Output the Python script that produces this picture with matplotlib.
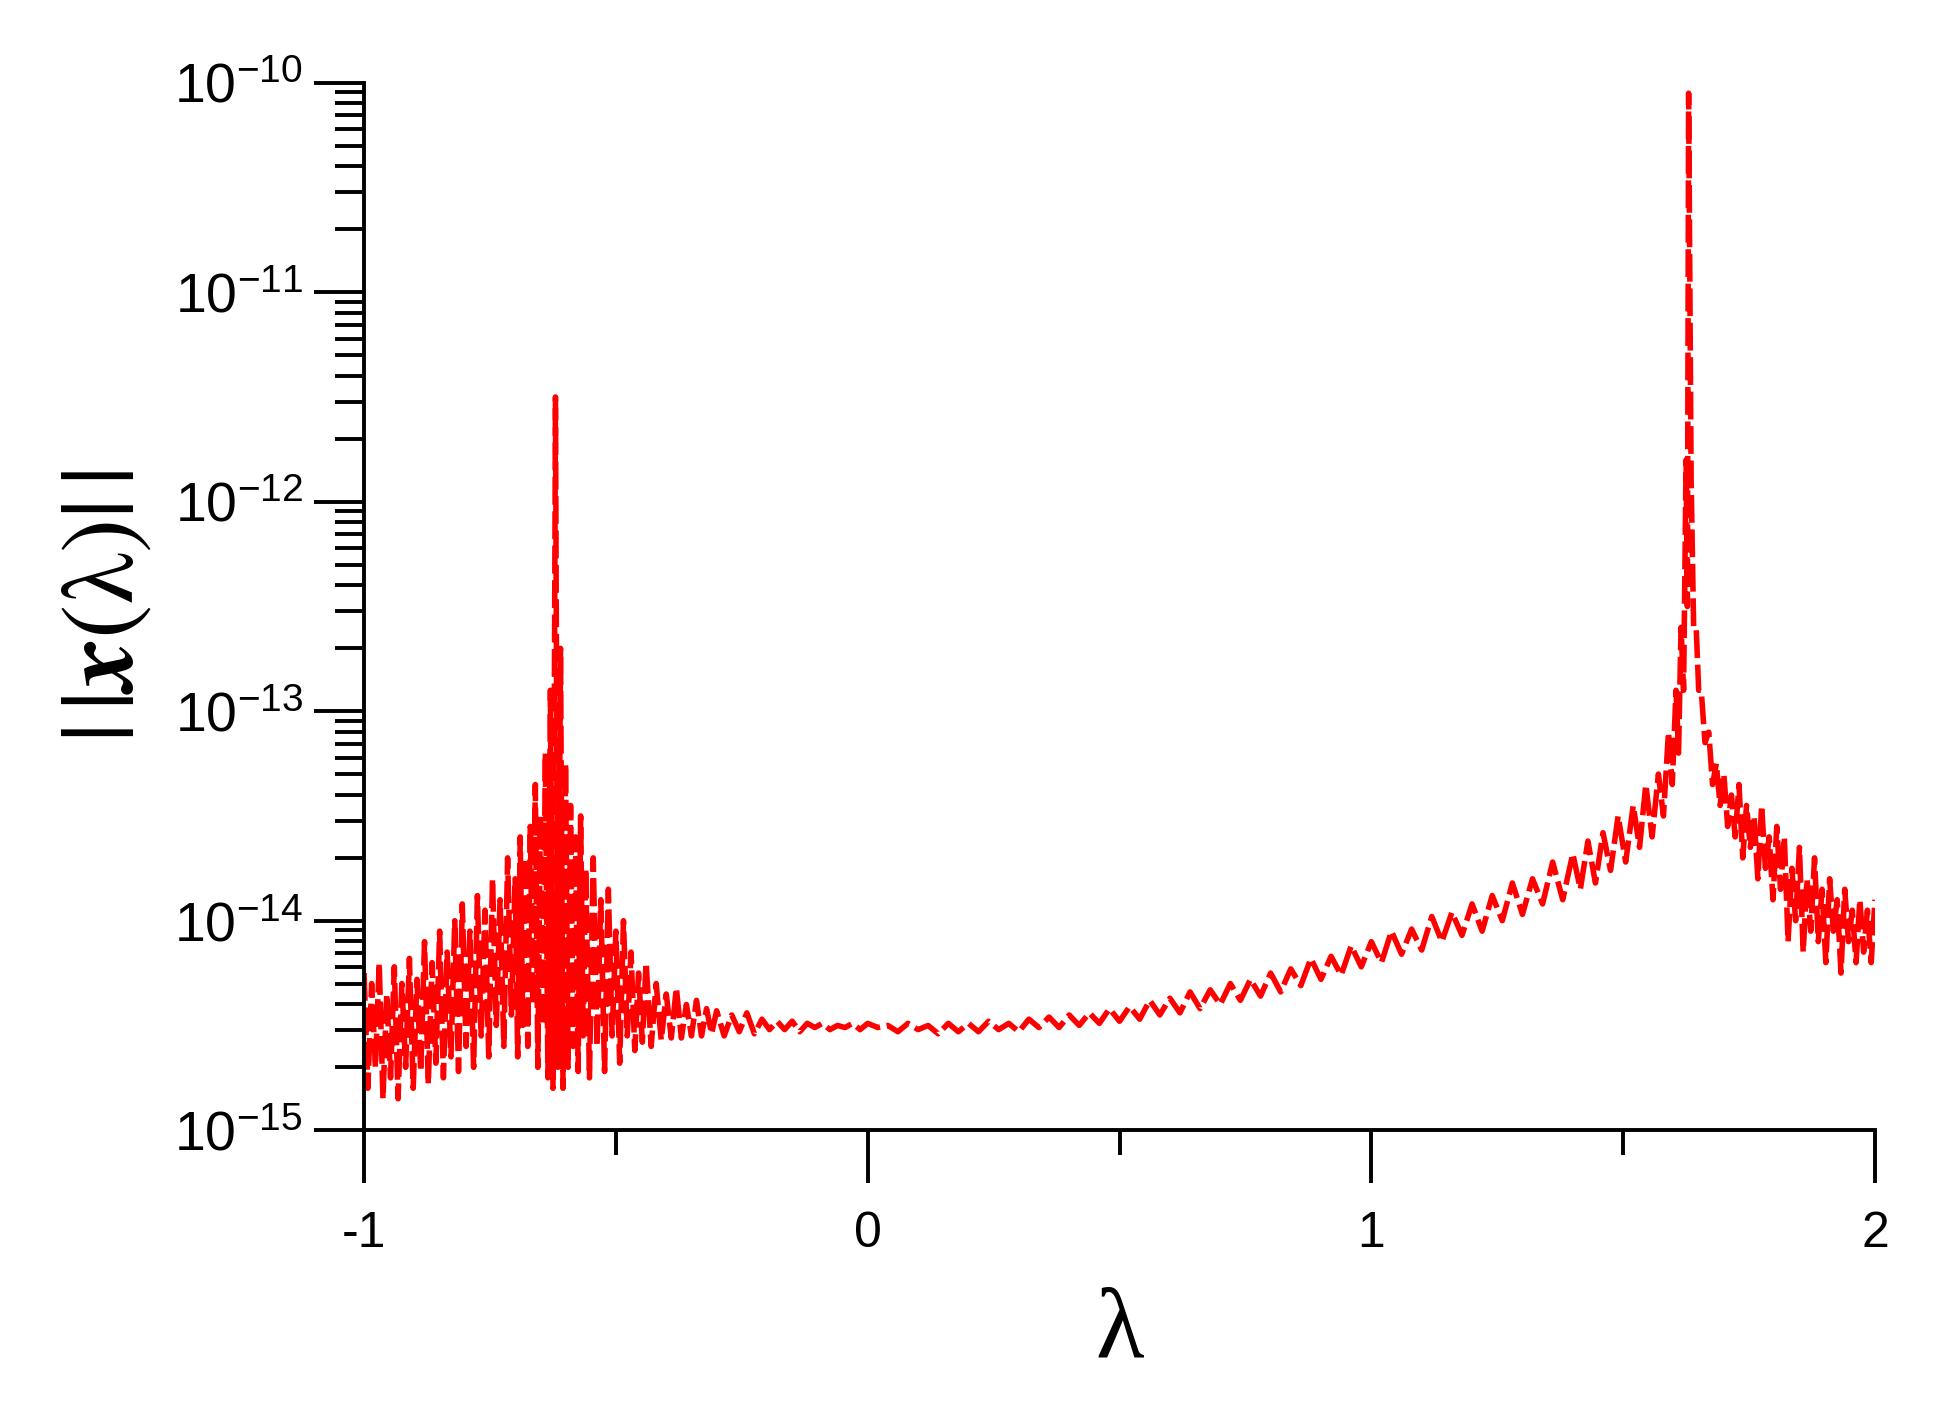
import numpy as np
import matplotlib
matplotlib.use('Agg')
import matplotlib.pyplot as plt
from matplotlib.ticker import FixedLocator, LogLocator, NullFormatter

plt.rcParams['font.family'] = 'Liberation Sans'
plt.rcParams['mathtext.fontset'] = 'stix'

# envelope: lambda knots, log10 of upper / lower noise
lam = [-1.0, -0.985, -0.97, -0.955, -0.94, -0.925, -0.91, -0.895, -0.88, -0.865,
       -0.85, -0.835, -0.82, -0.805, -0.79, -0.775, -0.76, -0.745, -0.73, -0.715,
       -0.70, -0.69, -0.68, -0.67, -0.66, -0.65, -0.64, -0.63, -0.62, -0.61,
       -0.60, -0.59, -0.58, -0.57, -0.56, -0.545, -0.53, -0.515, -0.50, -0.485,
       -0.47, -0.455, -0.44, -0.42, -0.40, -0.38, -0.36, -0.34, -0.32, -0.30,
       -0.27, -0.24, -0.21, -0.18, -0.15, -0.12, -0.09, -0.06, -0.03, 0.0,
       0.04, 0.08, 0.12, 0.16, 0.20, 0.24, 0.28, 0.32, 0.36, 0.40,
       0.44, 0.48, 0.52, 0.56, 0.60, 0.64, 0.68, 0.72, 0.76, 0.80,
       0.84, 0.88, 0.92, 0.96, 1.00, 1.04, 1.08, 1.12, 1.16, 1.20,
       1.24, 1.28, 1.32, 1.36, 1.40, 1.43, 1.46, 1.49, 1.52, 1.545,
       1.57, 1.59, 1.605, 1.615, 1.625, 1.63, 1.635, 1.645, 1.655, 1.67,
       1.685, 1.70, 1.715, 1.73, 1.745, 1.76, 1.775, 1.79, 1.805, 1.82,
       1.835, 1.85, 1.865, 1.88, 1.895, 1.91, 1.925, 1.94, 1.955, 1.97,
       1.985, 2.0]
hi = [-14.25, -14.3, -14.2, -14.35, -14.22, -14.3, -14.18, -14.28, -14.1, -14.2,
      -14.05, -14.15, -14.0, -13.92, -14.05, -13.88, -13.95, -13.8, -13.9, -13.7,
      -13.8, -13.6, -13.7, -13.55, -13.35, -13.5, -13.2, -12.9, -11.5, -12.7,
      -13.25, -13.45, -13.6, -13.5, -13.75, -13.7, -13.9, -13.85, -14.05, -14.0,
      -14.15, -14.25, -14.2, -14.3, -14.35, -14.32, -14.4, -14.38, -14.42, -14.43,
      -14.45, -14.44, -14.47, -14.48, -14.48, -14.49, -14.49, -14.5, -14.49, -14.49,
      -14.5, -14.49, -14.5, -14.49, -14.49, -14.48, -14.49, -14.47, -14.46, -14.45,
      -14.44, -14.42, -14.41, -14.38, -14.37, -14.34, -14.33, -14.3, -14.28, -14.25,
      -14.23, -14.18, -14.17, -14.12, -14.1, -14.05, -14.04, -13.98, -13.96, -13.92,
      -13.88, -13.82, -13.8, -13.72, -13.68, -13.62, -13.58, -13.5, -13.45, -13.35,
      -13.3, -13.1, -12.9, -12.6, -11.8, -10.05, -11.9, -12.6, -12.9, -13.1,
      -13.25, -13.3, -13.4, -13.35, -13.45, -13.5, -13.45, -13.6, -13.55, -13.6,
      -13.75, -13.65, -13.8, -13.7, -13.85, -13.8, -13.9, -13.85, -13.95, -13.9,
      -13.95, -13.9]
lo = [-14.8, -14.7, -14.85, -14.75, -14.85, -14.7, -14.8, -14.72, -14.78, -14.68,
      -14.75, -14.65, -14.72, -14.6, -14.7, -14.55, -14.65, -14.5, -14.6, -14.45,
      -14.65, -14.5, -14.6, -14.4, -14.7, -14.5, -14.75, -14.8, -14.7, -14.8,
      -14.7, -14.6, -14.72, -14.55, -14.75, -14.6, -14.72, -14.55, -14.68, -14.55,
      -14.62, -14.58, -14.6, -14.57, -14.56, -14.56, -14.55, -14.55, -14.54, -14.55,
      -14.53, -14.54, -14.52, -14.52, -14.53, -14.51, -14.52, -14.51, -14.52, -14.51,
      -14.53, -14.52, -14.54, -14.53, -14.53, -14.52, -14.53, -14.51, -14.51, -14.5,
      -14.49, -14.48, -14.47, -14.45, -14.44, -14.42, -14.4, -14.38, -14.36, -14.34,
      -14.31, -14.28, -14.26, -14.22, -14.2, -14.16, -14.14, -14.1, -14.07, -14.05,
      -14.0, -13.97, -13.92, -13.9, -13.85, -13.82, -13.76, -13.72, -13.65, -13.6,
      -13.5, -13.35, -13.2, -12.9, -12.5, -11.0, -12.6, -12.9, -13.15, -13.35,
      -13.45, -13.55, -13.6, -13.7, -13.65, -13.8, -13.75, -13.9, -13.85, -14.1,
      -14.0, -14.15, -14.05, -14.1, -14.2, -14.05, -14.25, -14.1, -14.2, -14.15,
      -14.2, -14.1]

# zigzag between the read envelope values
xs, ys = [], []
for i in range(len(lam)):
    xs.append(lam[i]); ys.append(10 ** hi[i])
    if i < len(lam) - 1:
        xs.append(0.5 * (lam[i] + lam[i + 1])); ys.append(10 ** lo[i])

fig = plt.figure(figsize=(19.47, 14.27), dpi=100)
ax = fig.add_axes([0.187, 0.208, 0.776, 0.734])
ax.plot(xs, ys, color='red', lw=4.0, ls=(0, (5, 1.2)))

ax.set_yscale('log')
ax.set_xlim(-1, 2)
ax.set_ylim(1e-15, 1e-10)
for s in ['top', 'right']:
    ax.spines[s].set_visible(False)
for s in ['left', 'bottom']:
    ax.spines[s].set_linewidth(2.8)

ax.xaxis.set_major_locator(FixedLocator([-1, 0, 1, 2]))
ax.xaxis.set_minor_locator(FixedLocator([-0.5, 0.5, 1.5]))
ax.set_xticklabels(['-1', '0', '1', '2'])
ax.yaxis.set_major_locator(FixedLocator([1e-15, 1e-14, 1e-13, 1e-12, 1e-11, 1e-10]))
ax.set_yticklabels([r'$\mathregular{10^{-%d}}$' % k for k in [15, 14, 13, 12, 11, 10]])
ax.yaxis.set_minor_locator(LogLocator(base=10, subs=np.arange(2, 10)))
ax.yaxis.set_minor_formatter(NullFormatter())

ax.tick_params(axis='x', which='major', direction='out', length=38, width=2.8, labelsize=36, pad=20)
ax.tick_params(axis='x', which='minor', direction='out', length=18, width=2.8)
ax.tick_params(axis='y', which='major', direction='out', length=36, width=2.8, labelsize=40, pad=8)
ax.tick_params(axis='y', which='minor', direction='out', length=21, width=2.8)

ax.set_xlabel('λ', fontsize=72, family='Liberation Serif', labelpad=22)
ax.set_ylabel(r'$\mathrm{|\,|}\mathbfit{x}\mathrm{(\lambda)|\,|}$', fontsize=74, labelpad=14)

fig.savefig('out.png')
